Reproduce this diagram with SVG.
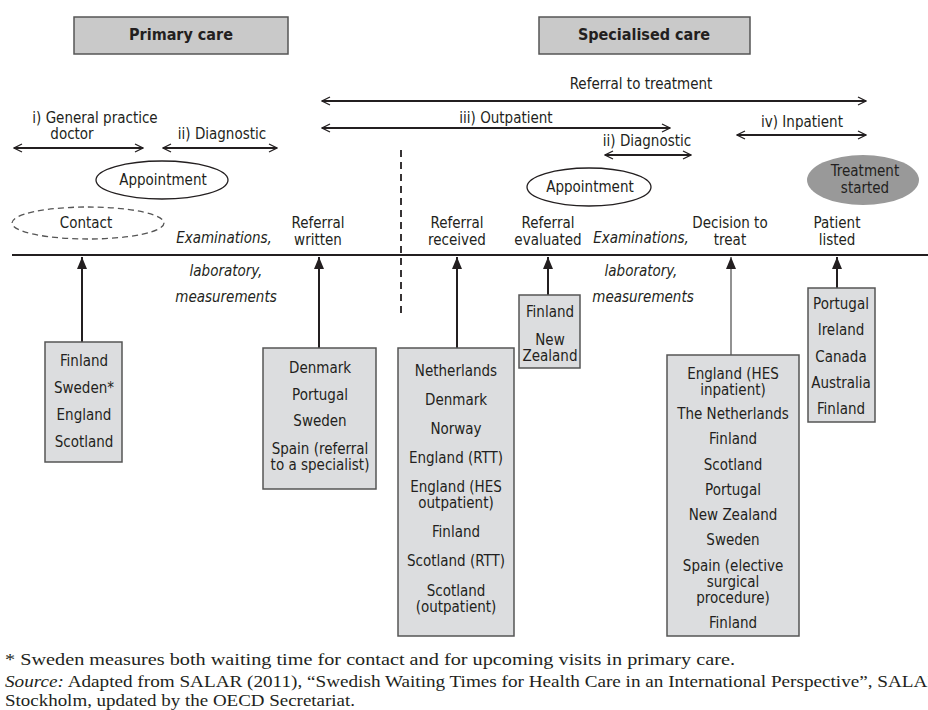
<svg xmlns="http://www.w3.org/2000/svg" width="928" height="710" viewBox="0 0 928 710">
<defs>
<marker id="chev" viewBox="0 0 10 10" refX="9" refY="5" markerWidth="10" markerHeight="10" markerUnits="userSpaceOnUse" orient="auto-start-reverse">
<path d="M1,1 L9,5 L1,9" fill="none" stroke="#231f20" stroke-width="1.3"/>
</marker>
<marker id="tri" viewBox="0 0 10 12" refX="5" refY="0" markerWidth="10" markerHeight="12" markerUnits="userSpaceOnUse" orient="0">
<path d="M5,0 L10,12 L0,12 Z" fill="#231f20"/>
</marker>
</defs>
<style>
text{font-family:"Liberation Sans Narrow","DejaVu Sans Condensed","Liberation Sans",sans-serif;font-size:15px;fill:#231f20;text-anchor:middle}
.hd{font-weight:bold;font-size:16px}
.it{font-style:italic}
.hbox{fill:#c9c9c9;stroke:#555;stroke-width:1.5}
.box{fill:#dcdddf;stroke:#555;stroke-width:1.5}
.span{stroke:#231f20;stroke-width:1.8;fill:none;marker-start:url(#chev);marker-end:url(#chev)}
.up{stroke:#231f20;stroke-width:2;fill:none}
.ft{font-family:"Liberation Serif",serif;font-size:16px;text-anchor:start}
</style>
<rect width="928" height="710" fill="#fff"/>

<g id="primary-care"><rect class="hbox" x="74" y="17" width="214" height="37"/><text class="hd" x="181" y="40">Primary care</text></g>
<g id="specialised-care"><rect class="hbox" x="539" y="17" width="211" height="37"/><text class="hd" x="644" y="40">Specialised care</text></g>

<g id="span-labels">
<text x="641" y="89">Referral to treatment</text>
<text x="506" y="123">iii) Outpatient</text>
<text x="647" y="146">ii) Diagnostic</text>
<text x="802" y="127">iv) Inpatient</text>
<text x="95" y="123">i) General practice</text>
<text x="72" y="139">doctor</text>
<text x="222" y="139">ii) Diagnostic</text>
</g>

<g id="appointment-left"><ellipse cx="162" cy="180" rx="66" ry="19" fill="#fff" stroke="#231f20" stroke-width="1.3"/><text x="163" y="185">Appointment</text></g>
<g id="contact"><ellipse cx="88" cy="223" rx="76" ry="16" fill="none" stroke="#555" stroke-width="1.3" stroke-dasharray="6,4"/><text x="86" y="228">Contact</text></g>
<g id="appointment-right"><ellipse cx="589" cy="187" rx="62" ry="19" fill="#fff" stroke="#231f20" stroke-width="1.3"/><text x="590" y="192">Appointment</text></g>
<g id="treatment-started"><ellipse cx="863" cy="180" rx="56" ry="25" fill="#999"/><text x="865" y="176">Treatment</text><text x="865" y="193">started</text></g>

<g id="milestones">
<text x="318" y="228">Referral</text><text x="318" y="245">written</text>
<text x="457" y="228">Referral</text><text x="457" y="245">received</text>
<text x="548" y="228">Referral</text><text x="548" y="245">evaluated</text>
<text x="730" y="228">Decision to</text><text x="730" y="245">treat</text>
<text x="837" y="228">Patient</text><text x="837" y="245">listed</text>
<text class="it" x="224" y="243">Examinations,</text>
<text class="it" x="226" y="276">laboratory,</text>
<text class="it" x="226" y="302">measurements</text>
<text class="it" x="641" y="243">Examinations,</text>
<text class="it" x="641" y="276">laboratory,</text>
<text class="it" x="643" y="302">measurements</text>
</g>

<g id="connectors">
<line x1="12" y1="255" x2="928" y2="255" stroke="#231f20" stroke-width="2.2"/>
<line x1="401" y1="150" x2="401" y2="315" stroke="#231f20" stroke-width="1.8" stroke-dasharray="7,5"/>
<line class="span" x1="322" y1="101" x2="866" y2="101"/>
<line class="span" x1="322" y1="128" x2="670" y2="128"/>
<line class="span" x1="605" y1="155" x2="691" y2="155"/>
<line class="span" x1="737" y1="135" x2="866" y2="135"/>
<line class="span" x1="14" y1="148" x2="143" y2="148"/>
<line class="span" x1="163" y1="148" x2="277" y2="148"/>
<line class="up" x1="82" y1="342" x2="82" y2="257" marker-end="url(#tri)"/>
<line class="up" x1="319" y1="348" x2="319" y2="257" marker-end="url(#tri)"/>
<line class="up" x1="457" y1="348" x2="457" y2="257" marker-end="url(#tri)"/>
<line class="up" x1="548" y1="295" x2="548" y2="257" marker-end="url(#tri)"/>
<line class="up" x1="731" y1="355" x2="731" y2="257" style="stroke:#777;stroke-width:1.6" marker-end="url(#tri)"/>
<line class="up" x1="837" y1="288" x2="837" y2="257" marker-end="url(#tri)"/>
</g>

<g id="box-contact"><rect class="box" x="45" y="342" width="77" height="120"/>
<text x="84" y="366">Finland</text><text x="84" y="393">Sweden*</text><text x="84" y="420">England</text><text x="84" y="447">Scotland</text></g>

<g id="box-referral-written"><rect class="box" x="263" y="348" width="113" height="141"/>
<text x="320" y="373">Denmark</text><text x="320" y="400">Portugal</text><text x="320" y="426">Sweden</text><text x="320" y="454">Spain (referral</text><text x="320" y="470">to a specialist)</text></g>

<g id="box-referral-received"><rect class="box" x="398" y="348" width="116" height="288"/>
<text x="456" y="376">Netherlands</text><text x="456" y="405">Denmark</text><text x="456" y="434">Norway</text><text x="456" y="463">England (RTT)</text><text x="456" y="492">England (HES</text><text x="456" y="508">outpatient)</text><text x="456" y="537">Finland</text><text x="456" y="566">Scotland (RTT)</text><text x="456" y="596">Scotland</text><text x="456" y="612">(outpatient)</text></g>

<g id="box-referral-evaluated"><rect class="box" x="519" y="295" width="61" height="73"/>
<text x="550" y="317">Finland</text><text x="550" y="345">New</text><text x="550" y="361">Zealand</text></g>

<g id="box-decision"><rect class="box" x="667" y="355" width="132" height="281"/>
<text x="733" y="379">England (HES</text><text x="733" y="395">inpatient)</text><text x="733" y="419">The Netherlands</text><text x="733" y="444">Finland</text><text x="733" y="470">Scotland</text><text x="733" y="495">Portugal</text><text x="733" y="520">New Zealand</text><text x="733" y="545">Sweden</text><text x="733" y="571">Spain (elective</text><text x="733" y="587">surgical</text><text x="733" y="603">procedure)</text><text x="733" y="628">Finland</text></g>

<g id="box-patient-listed"><rect class="box" x="808" y="288" width="67" height="134"/>
<text x="841" y="309">Portugal</text><text x="841" y="335">Ireland</text><text x="841" y="362">Canada</text><text x="841" y="388">Australia</text><text x="841" y="414">Finland</text></g>

<g id="footnotes">
<text class="ft" x="5" y="665" textLength="730" lengthAdjust="spacingAndGlyphs">* Sweden measures both waiting time for contact and for upcoming visits in primary care.</text>
<text class="ft" x="5" y="687" textLength="940" lengthAdjust="spacingAndGlyphs"><tspan font-style="italic">Source:</tspan>  Adapted from SALAR (2011), “Swedish Waiting Times for Health Care in an International Perspective”, SALAR,</text>
<text class="ft" x="5" y="706" textLength="350" lengthAdjust="spacingAndGlyphs">Stockholm, updated by the OECD Secretariat.</text>
</g>
</svg>
